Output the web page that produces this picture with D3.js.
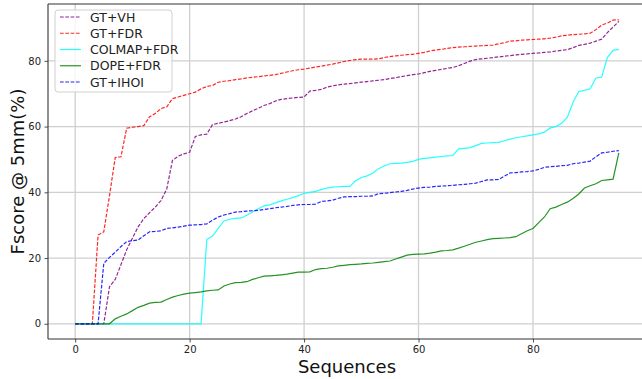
<!DOCTYPE html>
<html>
<head>
<meta charset="utf-8">
<script src="https://cdn.jsdelivr.net/npm/d3@7"></script>
<style>
  html, body { margin: 0; padding: 0; background: #fff; }
  svg { display: block; font-family: "DejaVu Sans", sans-serif; }
</style>
</head>
<body>
<svg id="chart" width="642" height="379"></svg>
<script>
// Sequence index 0..95 (each series sorted ascending)
const sequences = d3.range(96);

const gtVh = [0, 0, 0, 0, 0, 0, 11.3, 13.5, 18, 22.5, 26, 29.5, 32, 33.8, 35.5, 37.5, 41, 49.7, 51, 51.7,
  52.2, 57, 57.5, 57.7, 60.6, 61, 61.4, 61.8, 62.3, 63, 64, 64.8, 65.6, 66.4, 67, 67.8, 68.3, 68.5, 68.7, 68.9,
  69, 70.8, 71, 71.3, 72, 72.4, 72.7, 72.9, 73.1, 73.3, 73.5, 73.7, 73.9, 74.1, 74.3, 74.6, 74.9, 75.2, 75.5, 75.8,
  76, 76.4, 76.8, 77.1, 77.4, 77.7, 78, 78.5, 79.2, 79.9, 80.4, 80.6, 80.8, 81, 81.2, 81.4, 81.6, 81.8, 82, 82.1,
  82.3, 82.4, 82.6, 82.7, 83, 83.2, 83.4, 84, 84.7, 85, 85.4, 86, 86.6, 88.6, 90.3, 92];

const gtFdr = [0, 0, 0, 0, 27, 28, 39, 50.6, 50.8, 59.5, 59.8, 60, 60.3, 63, 64, 65.5, 66, 68.5, 69, 69.5,
  70, 70.5, 71.5, 72.2, 72.5, 73.5, 73.8, 74, 74.3, 74.5, 74.8, 75, 75.2, 75.4, 75.6, 75.8, 76.2, 76.6, 77, 77.3,
  77.5, 77.8, 78.1, 78.4, 78.7, 79, 79.4, 79.8, 80.1, 80.4, 80.5, 80.5, 80.5, 80.6, 81, 81.3, 81.5, 81.7, 81.9, 82,
  82.3, 82.6, 83, 83.3, 83.5, 83.8, 84, 84.2, 84.3, 84.4, 84.5, 84.6, 84.7, 84.8, 85.2, 85.5, 86, 86.1, 86.3, 86.4,
  86.5, 86.6, 86.7, 86.9, 87.2, 87.6, 87.8, 88, 88.1, 88.2, 88.4, 89.5, 90.9, 91.5, 92.4, 92.5];

const colmapFdr = [0, 0, 0, 0, 0, 0, 0, 0, 0, 0, 0, 0, 0, 0, 0, 0, 0, 0, 0, 0,
  0, 0, 0, 25.7, 26.7, 29, 31.3, 31.8, 32.1, 32.2, 33, 34, 35, 35.9, 36.2, 36.8, 37.4, 37.9, 38.4, 39,
  39.7, 40, 40.3, 40.8, 41.3, 41.6, 41.7, 41.8, 41.8, 43.5, 44.5, 45, 45.8, 47.2, 48, 48.7, 48.8, 48.9, 49.1, 49.4,
  50, 50.3, 50.5, 50.7, 50.9, 51.1, 51.2, 53.2, 53.4, 53.6, 54.2, 54.9, 55, 55.1, 55.2, 55.7, 56.2, 56.6, 56.9, 57.2,
  57.5, 57.8, 58.3, 59.6, 60, 61, 62.8, 67.4, 70.7, 71, 71.5, 74.8, 75, 81, 83.2, 83.5];

const dopeFdr = [0, 0, 0, 0, 0, 0, 0, 1.5, 2.3, 3, 4, 5, 5.6, 6.3, 6.5, 6.6, 7.4, 8.1, 8.6, 9,
  9.3, 9.5, 9.7, 10, 10.2, 10.3, 11.5, 12.1, 12.5, 12.6, 12.8, 13.5, 14, 14.5, 14.6, 14.7, 14.9, 15.1, 15.4, 15.7,
  15.7, 15.8, 16.5, 16.8, 16.9, 17.2, 17.6, 17.8, 18, 18.1, 18.2, 18.4, 18.5, 18.7, 18.9, 19.1, 19.7, 20.3, 20.9, 21.1,
  21.2, 21.3, 21.5, 21.8, 22.2, 22.3, 22.5, 23, 23.6, 24.2, 24.8, 25.2, 25.6, 25.9, 26, 26.1, 26.2, 26.5, 27.4, 28.3,
  29, 30.8, 32.5, 35, 35.5, 36.3, 37, 38.1, 39.5, 41.3, 42, 42.6, 43.6, 43.8, 44, 52];

const gtIhoi = [0, 0, 0, 0, 0, 18.4, 20.2, 21.8, 23.5, 25, 25.3, 25.5, 26.8, 28, 28.1, 28.3, 29, 29.2, 29.4, 29.7,
  30, 30.1, 30.2, 30.4, 31.5, 32.5, 33.1, 33.5, 34, 34.1, 34.3, 34.4, 34.5, 34.8, 35, 35.3, 35.5, 35.7, 36, 36.2,
  36.3, 36.3, 36.4, 37.2, 37.4, 37.6, 38.2, 38.6, 38.7, 38.7, 38.8, 38.8, 38.9, 39.6, 39.7, 39.9, 40.1, 40.3, 40.6, 41,
  41.3, 41.5, 41.6, 41.8, 41.9, 42, 42.1, 42.3, 42.4, 42.6, 42.8, 43.3, 43.8, 43.8, 43.9, 44.9, 45.9, 46, 46.2, 46.3,
  46.5, 47, 47.6, 47.8, 47.9, 48.1, 48.2, 48.7, 48.9, 49.2, 49.5, 50.8, 52, 52.2, 52.5, 52.7];

const seriesNames = ["GT+VH", "GT+FDR", "COLMAP+FDR", "DOPE+FDR", "GT+IHOI"];
const seriesValues = [gtVh, gtFdr, colmapFdr, dopeFdr, gtIhoi];
const seriesColors = ["purple", "red", "cyan", "green", "blue"];
const seriesDashed = [true, true, false, false, true];

const xTicks = [0, 20, 40, 60, 80];
const yTicks = [0, 20, 40, 60, 80];

const svg = d3.select("#chart");
const plotLeft = 48, plotTop = 4, plotBottom = 339, plotRight = 646;

const x = d3.scaleLinear().domain([-4.75, 99.75]).range([plotLeft, plotRight]);
const y = d3.scaleLinear().domain([-4.63, 97.3]).range([plotBottom, plotTop]);

// grid
const grid = svg.append("g").attr("stroke", "#cfcfcf").attr("stroke-width", 1.3);
grid.selectAll("line.gx").data(xTicks).enter().append("line")
  .attr("x1", d => x(d)).attr("x2", d => x(d)).attr("y1", plotTop).attr("y2", plotBottom);
grid.selectAll("line.gy").data(yTicks).enter().append("line")
  .attr("x1", plotLeft).attr("x2", plotRight).attr("y1", d => y(d)).attr("y2", d => y(d));

// series
const line = d3.line().x((d, i) => x(sequences[i])).y(d => y(d));
seriesValues.forEach((vals, k) => {
  svg.append("path")
    .datum(vals)
    .attr("d", line)
    .attr("fill", "none")
    .attr("stroke", seriesColors[k])
    .attr("stroke-opacity", 0.85)
    .attr("stroke-width", 1.2)
    .attr("stroke-dasharray", seriesDashed[k] ? "3.7,1.6" : null);
});

// axes
const xAxis = svg.append("g").attr("transform", `translate(0,${plotBottom})`)
  .call(d3.axisBottom(x).tickValues(xTicks).tickSize(3.5).tickPadding(3.5));
const yAxis = svg.append("g").attr("transform", `translate(${plotLeft},0)`)
  .call(d3.axisLeft(y).tickValues(yTicks).tickSize(3.5).tickPadding(3.5));
[xAxis, yAxis].forEach(a => {
  a.select(".domain").remove();
  a.selectAll("text").attr("font-size", 10).attr("fill", "#222")
    .attr("font-family", "DejaVu Sans, sans-serif");
  a.selectAll("line").attr("stroke", "#222").attr("stroke-width", 0.8);
});

// spines
svg.append("line").attr("x1", plotLeft).attr("x2", plotRight).attr("y1", plotTop).attr("y2", plotTop)
  .attr("stroke", "#333").attr("stroke-width", 1.2);
svg.append("line").attr("x1", plotLeft).attr("x2", plotRight).attr("y1", plotBottom).attr("y2", plotBottom)
  .attr("stroke", "#333").attr("stroke-width", 1.2);
svg.append("line").attr("x1", plotLeft).attr("x2", plotLeft).attr("y1", plotTop).attr("y2", plotBottom)
  .attr("stroke", "#444").attr("stroke-width", 1.2);

// axis labels
svg.append("text").attr("x", 347).attr("y", 373).attr("text-anchor", "middle")
  .attr("font-size", 18).attr("fill", "#111").text("Sequences");
svg.append("text").attr("transform", `translate(24,${(plotTop + plotBottom) / 2}) rotate(-90)`)
  .attr("text-anchor", "middle").attr("font-size", 18).attr("fill", "#111").text("Fscore @ 5mm(%)");

// legend
const lg = svg.append("g").attr("transform", "translate(55,10)");
lg.append("rect").attr("width", 117).attr("height", 82).attr("rx", 3)
  .attr("fill", "white").attr("fill-opacity", 0.8).attr("stroke", "#d0d0d0");
seriesNames.forEach((name, k) => {
  const cy = 7 + k * 16.25;
  lg.append("line").attr("x1", 5).attr("x2", 26).attr("y1", cy).attr("y2", cy)
    .attr("stroke", seriesColors[k]).attr("stroke-opacity", 0.85).attr("stroke-width", 1.2)
    .attr("stroke-dasharray", seriesDashed[k] ? "3.7,1.6" : null);
  lg.append("text").attr("x", 35).attr("y", cy + 4.5).attr("font-size", 12.5)
    .attr("fill", "#222").text(name);
});
</script>
</body>
</html>
